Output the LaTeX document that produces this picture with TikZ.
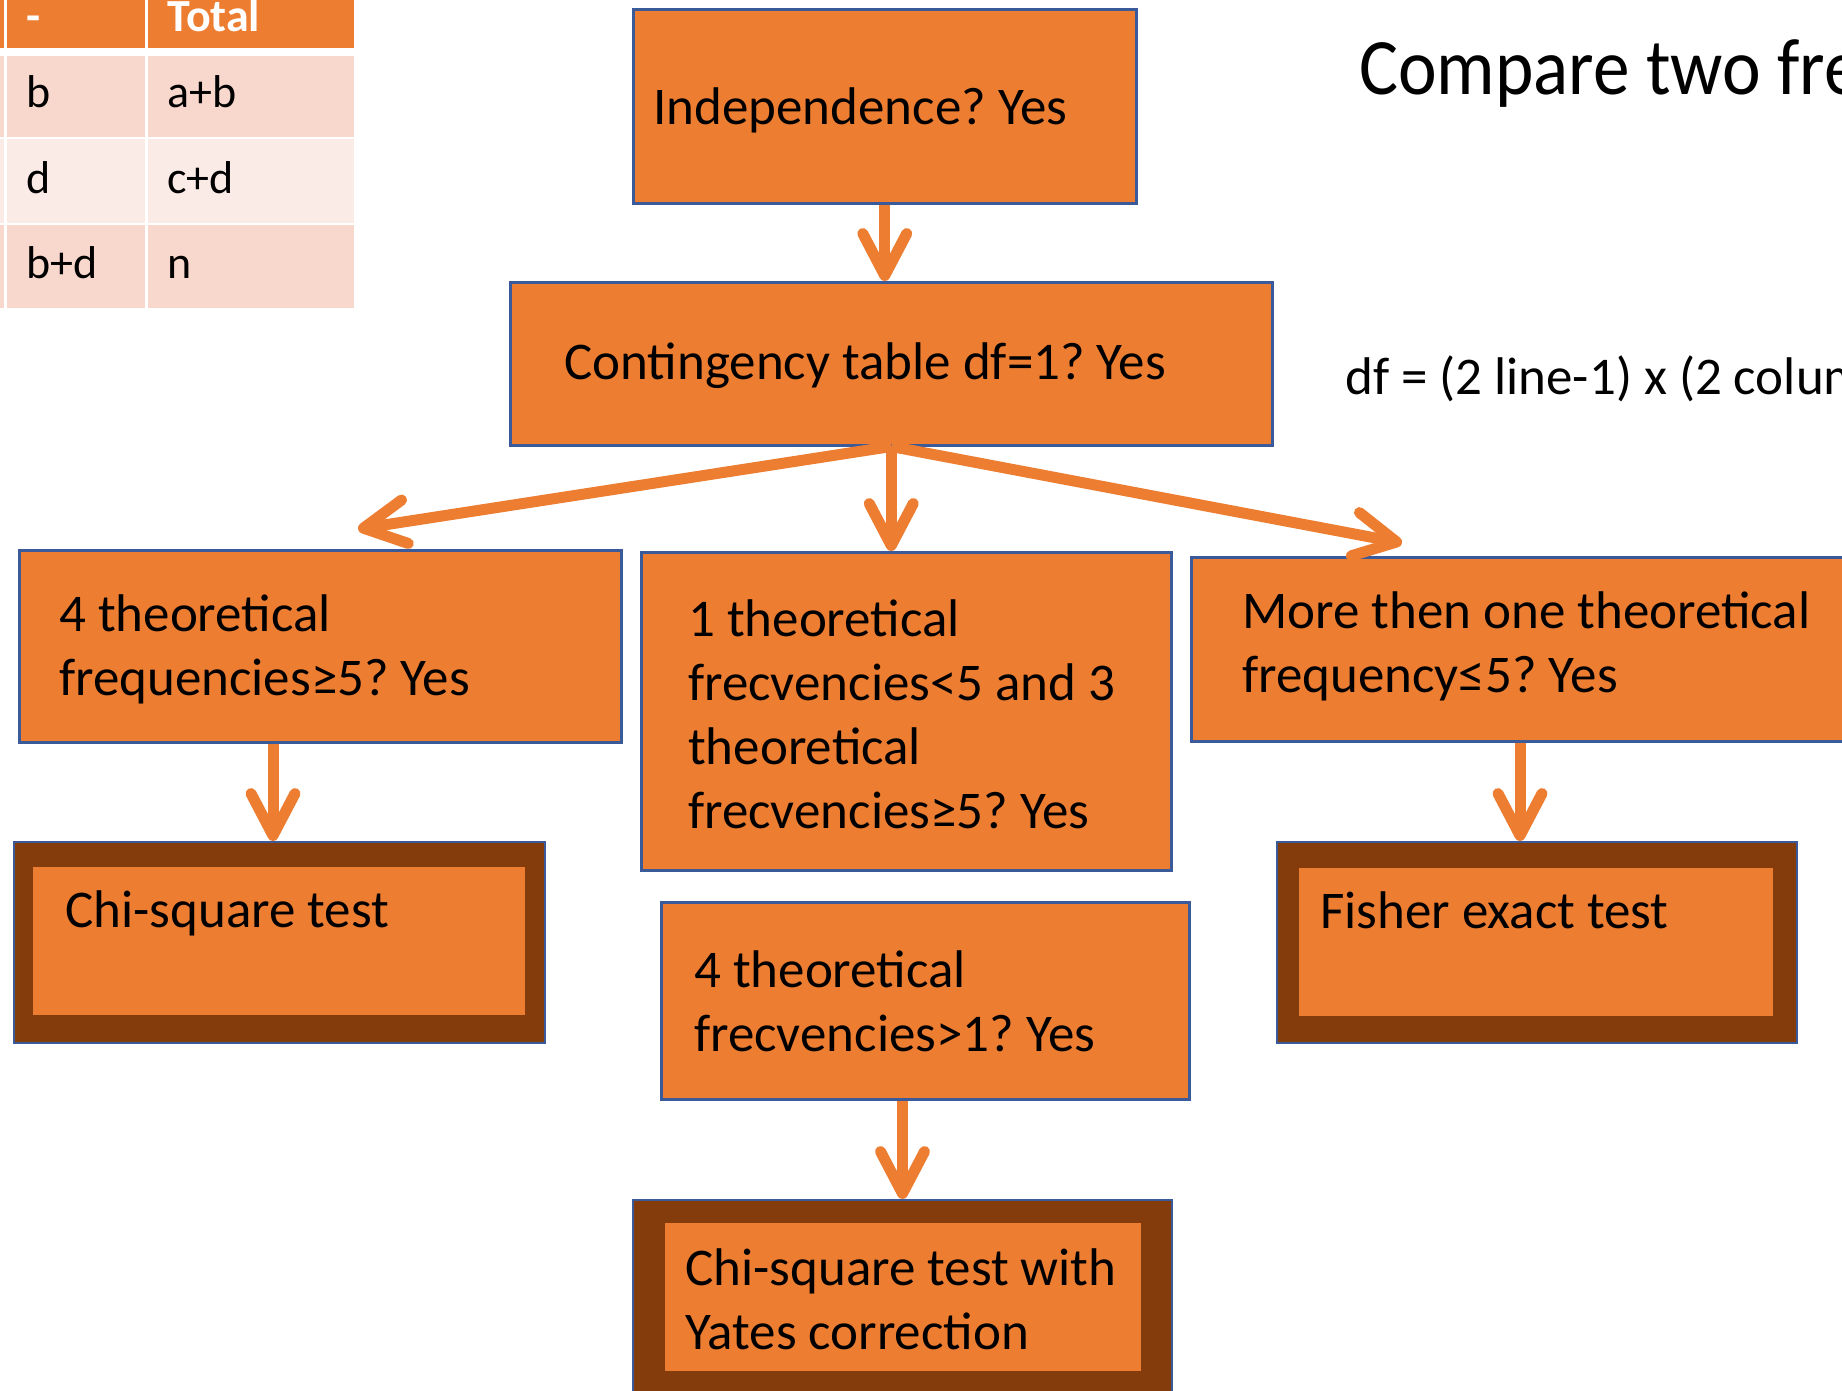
\documentclass[tikz,border=0pt]{standalone}
\usepackage{fontspec}
\setmainfont{Carlito}
\newfontfamily\titlefont[FakeStretch=0.915]{Carlito}
\usetikzlibrary{arrows.meta,calc}
\definecolor{acc}{HTML}{ED7D31}
\definecolor{dkbr}{HTML}{843C0C}
\definecolor{bline}{HTML}{3A5A9A}
\definecolor{rowA}{HTML}{F8D7CD}
\definecolor{rowB}{HTML}{FBEBE7}
\frenchspacing
\begin{document}
\begin{tikzpicture}[x=1pt,y=-1pt,
  box/.style={draw=bline,line width=2.5pt,fill=acc,anchor=north west,inner sep=0pt},
  outerbox/.style={draw=bline,line width=2pt,fill=dkbr,anchor=north west,inner sep=0pt},
  innerbox/.style={fill=acc,anchor=north west,inner sep=0pt},
  lbl/.style={font=\fontsize{53}{64}\selectfont,align=left,inner sep=0pt,text=black},
  cell/.style={anchor=north west,inner sep=0pt},
  ctext/.style={font=\fontsize{46}{56}\selectfont,inner sep=0pt,anchor=base west},
  conn/.style={draw=acc,line width=11pt,-{Straight Barb[length=42pt,width=44pt,round]}},
]
\useasboundingbox (0,0) rectangle (1842,1390);
\clip (0,0) rectangle (1842,1390);

% ---- table (top left, clipped) ----
\node[cell,fill=acc,minimum width=4pt,minimum height=88pt] (s0) at (0,-40) {};
\node[cell,fill=acc,minimum width=138pt,minimum height=88pt] (h1) at (7,-40) {};
\node[cell,fill=acc,minimum width=206pt,minimum height=88pt] (h2) at (148,-40) {};
\node[cell,fill=rowA,minimum width=4pt,minimum height=81pt] (s1) at (0,56) {};
\node[cell,fill=rowA,minimum width=138pt,minimum height=81pt] (r1a) at (7,56) {};
\node[cell,fill=rowA,minimum width=206pt,minimum height=81pt] (r1b) at (148,56) {};
\node[cell,fill=rowB,minimum width=4pt,minimum height=84pt] (s2) at (0,139) {};
\node[cell,fill=rowB,minimum width=138pt,minimum height=84pt] (r2a) at (7,139) {};
\node[cell,fill=rowB,minimum width=206pt,minimum height=84pt] (r2b) at (148,139) {};
\node[cell,fill=rowA,minimum width=4pt,minimum height=83pt] (s3) at (0,225) {};
\node[cell,fill=rowA,minimum width=138pt,minimum height=83pt] (r3a) at (7,225) {};
\node[cell,fill=rowA,minimum width=206pt,minimum height=83pt] (r3b) at (148,225) {};
\node[ctext,text=white,font=\fontsize{46}{56}\selectfont\bfseries] (th1) at (26,31) {-};
\node[ctext,text=white,font=\fontsize{46}{56}\selectfont\bfseries] (th2) at (167,31) {Total};
\node[ctext] (t1a) at (26,107) {b};
\node[ctext] (t1b) at (167,107) {a+b};
\node[ctext] (t2a) at (26,193) {d};
\node[ctext] (t2b) at (167,193) {c+d};
\node[ctext] (t3a) at (26,278) {b+d};
\node[ctext] (t3b) at (167,278) {n};

% ---- titles ----
\node[anchor=base west,inner sep=0pt,font=\titlefont\fontsize{80}{96}\selectfont] (title) at (1359,94) {Compare two fre};
\node[anchor=base west,inner sep=0pt,font=\fontsize{53}{64}\selectfont] (dfn) at (1345,394) {df = (2 line-1) x (2 colum};

% ---- boxes ----
\node[box,minimum width=503pt,minimum height=194pt] (b1) at (632,8) {};
\node[lbl,anchor=west] (l1) at ($(b1.west)+(21,4)$) {Independence? Yes};

\node[box,minimum width=762pt,minimum height=163pt] (b2) at (509,281) {};
\node[lbl,anchor=west] (l2) at ($(b2.west)+(55,2)$) {Contingency table df=1? Yes};

\node[box,minimum width=602pt,minimum height=192pt] (b3) at (18,549) {};
\node[lbl,anchor=west] (l3) at ($(b3.west)+(41,3)$) {4 theoretical\\frequencies≥5? Yes};

\node[box,minimum width=530pt,minimum height=318pt] (b4) at (640,551) {};
\node[lbl,anchor=west] (l4) at ($(b4.west)+(48,3)$) {1 theoretical\\frecvencies<5 and 3\\theoretical\\frecvencies≥5? Yes};

\node[box,minimum width=680pt,minimum height=184pt] (b5) at (1190,556) {};
\node[lbl,anchor=west] (l5) at ($(b5.west)+(52,-3)$) {More then one theoretical\\frequency≤5? Yes};

\node[box,minimum width=528pt,minimum height=197pt] (b6) at (660,901) {};
\node[lbl,anchor=west] (l6) at ($(b6.west)+(34,1)$) {4 theoretical\\frecvencies>1? Yes};

% ---- result boxes ----
\node[outerbox,minimum width=531pt,minimum height=201pt] (chiO) at (13,841) {};
\node[innerbox,minimum width=492pt,minimum height=148pt] (chiI) at (33,867) {};
\node[lbl,anchor=base west] (l7) at ($(chiI.north west)+(32,60)$) {Chi-square test};

\node[outerbox,minimum width=520pt,minimum height=201pt] (fishO) at (1276,841) {};
\node[innerbox,minimum width=474pt,minimum height=148pt] (fishI) at (1299,868) {};
\node[lbl,anchor=base west] (l8) at ($(fishI.north west)+(21,60)$) {Fisher exact test};

\node[outerbox,minimum width=539pt,minimum height=200pt] (yO) at (632,1199) {};
\node[innerbox,minimum width=476pt,minimum height=148pt] (yI) at (665,1223) {};
\node[lbl,anchor=west] (l9) at ($(yI.west)+(20,2)$) {Chi-square test with\\Yates correction};

% ---- connectors ----
\coordinate (tL) at (358,529);
\coordinate (tR) at (1402,543);
\coordinate (cx) at (273,0);
\coordinate (fx) at (1520,0);
\draw[conn] (b1.south) -- (b1.south |- b2.north);
\draw[conn] (b2.south) -- (tL);
\draw[conn] (b2.south) -- (b2.south |- b4.north);
\draw[conn] (b2.south) -- (tR);
\draw[conn] (b3.south -| cx) -- (cx |- chiO.north);
\draw[conn] (b5.south -| fx) -- (fx |- fishO.north);
\draw[conn] (b6.south -| yO.north) -- (yO.north);
\end{tikzpicture}
\end{document}
